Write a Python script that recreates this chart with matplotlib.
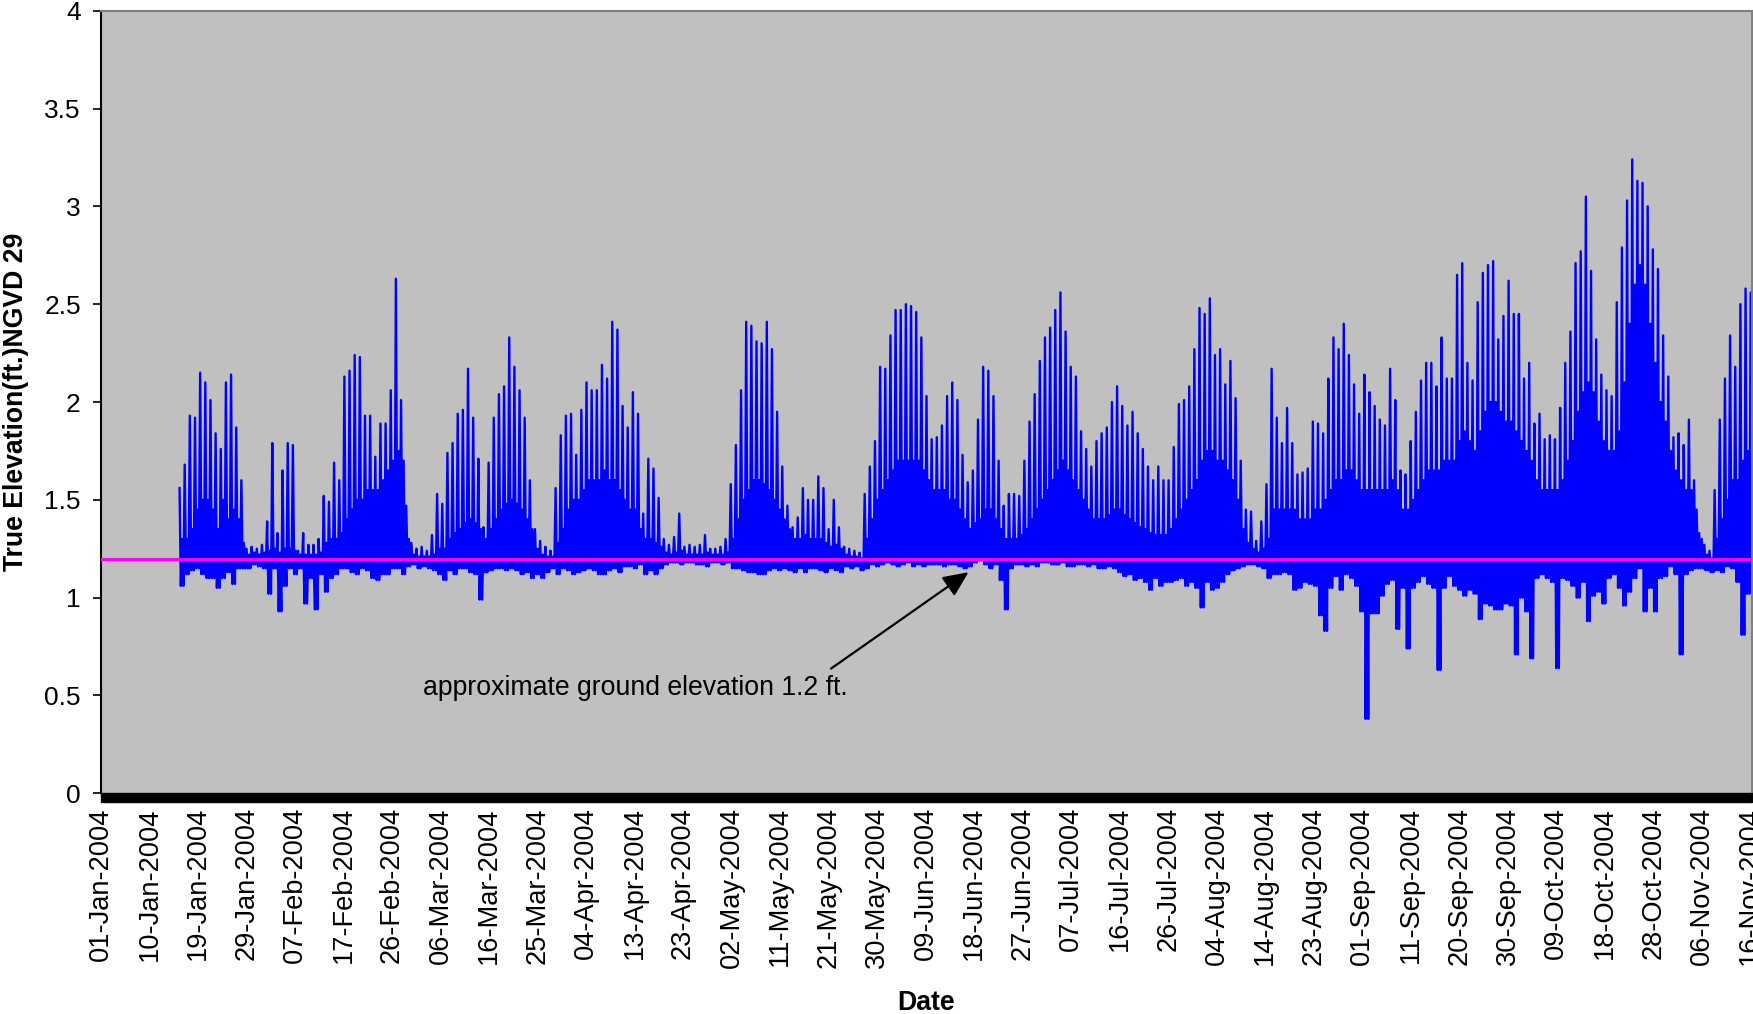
import numpy as np
import pandas as pd
import matplotlib
matplotlib.use('Agg')
import matplotlib.pyplot as plt
import matplotlib.dates as mdates
from matplotlib.patches import Rectangle

plt.rcParams['font.family'] = ['Liberation Sans', 'DejaVu Sans']

# ---------------- data ----------------
first_day = '2004-01-16'
# daily highest spike, upper edge of the dense band, daily lowest dip (ft NGVD 29)
daily_high = [
    1.56, 1.68, 1.93, 1.92, 2.15, 2.10, 2.01, 1.84, 1.76, 2.10,
    2.14, 1.87, 1.60, 1.25, 1.26, 1.25, 1.27, 1.39, 1.79, 1.33,
    1.65, 1.79, 1.78, 1.24, 1.33, 1.27, 1.27, 1.30, 1.52, 1.49,
    1.69, 1.60, 2.13, 2.16, 2.24, 2.23, 1.93, 1.93, 1.72, 1.89,
    1.89, 2.06, 2.63, 2.01, 1.47, 1.28, 1.25, 1.26, 1.24, 1.32,
    1.53, 1.48, 1.74, 1.79, 1.94, 1.96, 2.17, 1.92, 1.71, 1.36,
    1.69, 1.92, 2.04, 2.08, 2.33, 2.18, 2.06, 1.92, 1.60, 1.35,
    1.29, 1.26, 1.24, 1.56, 1.83, 1.93, 1.94, 1.73, 1.96, 2.10,
    2.06, 2.06, 2.19, 2.12, 2.41, 2.37, 1.98, 1.87, 2.05, 1.94,
    1.43, 1.71, 1.66, 1.51, 1.30, 1.27, 1.31, 1.43, 1.26, 1.27,
    1.26, 1.27, 1.32, 1.25, 1.25, 1.26, 1.30, 1.58, 1.78, 2.06,
    2.41, 2.39, 2.31, 2.30, 2.41, 2.27, 1.95, 1.67, 1.47, 1.36,
    1.41, 1.56, 1.50, 1.50, 1.62, 1.56, 1.35, 1.50, 1.36, 1.26,
    1.25, 1.24, 1.23, 1.53, 1.67, 1.80, 2.18, 2.17, 2.34, 2.47,
    2.47, 2.50, 2.49, 2.46, 2.33, 2.03, 1.81, 1.82, 1.88, 2.03,
    2.10, 2.01, 1.73, 1.59, 1.65, 1.91, 2.18, 2.16, 2.03, 1.70,
    1.47, 1.53, 1.53, 1.52, 1.70, 1.90, 2.04, 2.21, 2.33, 2.38,
    2.47, 2.56, 2.36, 2.18, 2.13, 1.85, 1.76, 1.67, 1.80, 1.84,
    1.87, 2.00, 2.08, 1.98, 1.88, 1.95, 1.84, 1.76, 1.67, 1.60,
    1.67, 1.60, 1.60, 1.77, 1.99, 2.01, 2.08, 2.27, 2.48, 2.45,
    2.53, 2.24, 2.27, 2.09, 2.21, 2.02, 1.70, 1.45, 1.44, 1.29,
    1.39, 1.58, 2.17, 1.92, 1.79, 1.97, 1.79, 1.63, 1.64, 1.66,
    1.90, 1.89, 1.84, 2.12, 2.33, 2.27, 2.40, 2.24, 2.09, 1.94,
    2.14, 2.05, 1.98, 1.91, 1.88, 2.17, 2.01, 1.65, 1.63, 1.80,
    1.95, 2.11, 2.20, 2.20, 2.08, 2.33, 2.12, 2.12, 2.65, 2.71,
    2.20, 2.11, 2.51, 2.66, 2.70, 2.72, 2.32, 2.44, 2.62, 2.45,
    2.45, 2.12, 2.20, 1.89, 1.94, 1.81, 1.83, 1.81, 1.97, 2.20,
    2.36, 2.71, 2.77, 3.05, 2.67, 2.32, 2.14, 2.06, 2.03, 2.51,
    2.79, 3.03, 3.24, 3.13, 3.12, 3.00, 2.78, 2.68, 2.34, 2.13,
    1.82, 1.84, 1.78, 1.91, 1.60, 1.33, 1.27, 1.24, 1.55, 1.91,
    2.12, 2.34, 2.18, 2.50, 2.58, 2.56,
]
daily_mid = [
    1.30, 1.30, 1.35, 1.45, 1.50, 1.50, 1.45, 1.35, 1.50, 1.40,
    1.45, 1.40, 1.28, 1.22, 1.23, 1.22, 1.23, 1.24, 1.25, 1.23,
    1.25, 1.25, 1.24, 1.22, 1.22, 1.22, 1.22, 1.23, 1.28, 1.30,
    1.30, 1.33, 1.40, 1.45, 1.50, 1.50, 1.55, 1.55, 1.55, 1.60,
    1.65, 1.70, 1.75, 1.70, 1.30, 1.22, 1.21, 1.21, 1.21, 1.22,
    1.25, 1.25, 1.30, 1.33, 1.35, 1.38, 1.40, 1.38, 1.35, 1.30,
    1.35, 1.40, 1.45, 1.48, 1.50, 1.48, 1.45, 1.40, 1.35, 1.25,
    1.22, 1.21, 1.21, 1.28, 1.35, 1.45, 1.50, 1.50, 1.55, 1.60,
    1.60, 1.60, 1.65, 1.60, 1.60, 1.55, 1.50, 1.45, 1.45, 1.35,
    1.30, 1.30, 1.28, 1.26, 1.23, 1.22, 1.23, 1.24, 1.22, 1.22,
    1.22, 1.22, 1.23, 1.22, 1.22, 1.22, 1.23, 1.30, 1.40, 1.50,
    1.55, 1.60, 1.60, 1.58, 1.55, 1.50, 1.45, 1.40, 1.35, 1.30,
    1.30, 1.32, 1.30, 1.30, 1.30, 1.28, 1.26, 1.27, 1.25, 1.22,
    1.21, 1.21, 1.20, 1.30, 1.40, 1.50, 1.55, 1.60, 1.65, 1.70,
    1.70, 1.70, 1.70, 1.70, 1.65, 1.60, 1.55, 1.55, 1.55, 1.50,
    1.50, 1.45, 1.40, 1.35, 1.38, 1.40, 1.45, 1.45, 1.40, 1.35,
    1.30, 1.30, 1.30, 1.32, 1.35, 1.40, 1.45, 1.50, 1.55, 1.60,
    1.65, 1.70, 1.65, 1.60, 1.55, 1.50, 1.45, 1.40, 1.40, 1.40,
    1.42, 1.45, 1.45, 1.42, 1.40, 1.38, 1.36, 1.35, 1.33, 1.32,
    1.32, 1.32, 1.35, 1.40, 1.45, 1.50, 1.55, 1.60, 1.70, 1.75,
    1.75, 1.70, 1.70, 1.65, 1.60, 1.50, 1.35, 1.28, 1.25, 1.23,
    1.25, 1.30, 1.45, 1.45, 1.45, 1.45, 1.45, 1.40, 1.40, 1.40,
    1.45, 1.45, 1.50, 1.55, 1.60, 1.60, 1.65, 1.65, 1.60, 1.55,
    1.55, 1.55, 1.55, 1.55, 1.55, 1.60, 1.55, 1.45, 1.45, 1.50,
    1.55, 1.60, 1.65, 1.65, 1.65, 1.70, 1.70, 1.70, 1.80, 1.85,
    1.80, 1.75, 1.85, 1.95, 2.00, 2.00, 1.95, 1.90, 1.90, 1.85,
    1.80, 1.75, 1.70, 1.60, 1.55, 1.55, 1.55, 1.55, 1.60, 1.70,
    1.80, 1.95, 2.05, 2.10, 2.05, 1.90, 1.80, 1.75, 1.75, 1.85,
    2.10, 2.40, 2.60, 2.70, 2.60, 2.40, 2.20, 2.00, 1.90, 1.75,
    1.65, 1.60, 1.55, 1.55, 1.45, 1.30, 1.22, 1.20, 1.30, 1.40,
    1.50, 1.60, 1.60, 1.70, 1.75, 1.75,
]
daily_low = [
    1.06, 1.12, 1.14, 1.15, 1.12, 1.10, 1.10, 1.05, 1.10, 1.13,
    1.07, 1.15, 1.15, 1.15, 1.17, 1.16, 1.15, 1.02, 1.15, 0.93,
    1.06, 1.15, 1.12, 1.15, 0.97, 1.10, 0.94, 1.12, 1.03, 1.10,
    1.12, 1.15, 1.15, 1.13, 1.12, 1.15, 1.14, 1.10, 1.09, 1.12,
    1.12, 1.15, 1.15, 1.12, 1.16, 1.17, 1.15, 1.16, 1.15, 1.14,
    1.12, 1.09, 1.14, 1.12, 1.15, 1.15, 1.13, 1.12, 0.99, 1.13,
    1.14, 1.15, 1.15, 1.14, 1.15, 1.14, 1.12, 1.13, 1.10, 1.12,
    1.10, 1.13, 1.15, 1.12, 1.15, 1.14, 1.12, 1.13, 1.14, 1.15,
    1.14, 1.12, 1.12, 1.14, 1.15, 1.13, 1.16, 1.16, 1.15, 1.17,
    1.12, 1.14, 1.12, 1.15, 1.17, 1.18, 1.18, 1.17, 1.18, 1.18,
    1.17, 1.17, 1.16, 1.18, 1.18, 1.17, 1.18, 1.15, 1.15, 1.14,
    1.13, 1.13, 1.12, 1.12, 1.14, 1.15, 1.14, 1.15, 1.14, 1.13,
    1.15, 1.13, 1.15, 1.15, 1.14, 1.13, 1.15, 1.14, 1.13, 1.16,
    1.15, 1.16, 1.14, 1.15, 1.17, 1.16, 1.17, 1.18, 1.17, 1.16,
    1.17, 1.18, 1.16, 1.17, 1.16, 1.17, 1.17, 1.17, 1.16, 1.17,
    1.17, 1.16, 1.15, 1.16, 1.18, 1.19, 1.17, 1.15, 1.17, 1.09,
    0.94, 1.15, 1.17, 1.17, 1.16, 1.17, 1.16, 1.18, 1.18, 1.17,
    1.17, 1.18, 1.16, 1.16, 1.17, 1.17, 1.16, 1.17, 1.15, 1.15,
    1.16, 1.15, 1.13, 1.11, 1.12, 1.09, 1.10, 1.08, 1.04, 1.10,
    1.06, 1.08, 1.08, 1.09, 1.10, 1.06, 1.08, 1.05, 0.95, 1.08,
    1.04, 1.05, 1.08, 1.12, 1.14, 1.15, 1.16, 1.17, 1.17, 1.16,
    1.15, 1.10, 1.12, 1.12, 1.13, 1.12, 1.04, 1.05, 1.08, 1.07,
    1.06, 0.91, 0.83, 1.05, 1.11, 1.04, 1.12, 1.10, 1.06, 0.93,
    0.38, 0.92, 0.92, 1.01, 1.07, 1.09, 0.84, 1.05, 0.74, 1.05,
    1.08, 1.11, 1.07, 1.05, 0.63, 1.05, 1.11, 1.06, 1.04, 1.01,
    1.04, 1.02, 0.89, 0.97, 0.96, 0.94, 0.94, 0.97, 0.96, 0.71,
    1.00, 0.93, 0.69, 1.10, 1.12, 1.10, 1.08, 0.64, 1.10, 1.09,
    1.06, 1.00, 1.08, 0.88, 1.01, 1.03, 0.97, 1.10, 1.12, 1.05,
    0.96, 1.03, 1.10, 1.15, 0.93, 1.05, 0.93, 1.10, 1.11, 1.16,
    1.12, 0.71, 1.12, 1.14, 1.15, 1.15, 1.14, 1.13, 1.14, 1.13,
    1.16, 1.15, 1.08, 0.81, 1.02, 1.05,
]

tick_labels = [
    '01-Jan-2004', '10-Jan-2004', '19-Jan-2004', '29-Jan-2004', '07-Feb-2004',
    '17-Feb-2004', '26-Feb-2004', '06-Mar-2004', '16-Mar-2004', '25-Mar-2004',
    '04-Apr-2004', '13-Apr-2004', '23-Apr-2004', '02-May-2004', '11-May-2004',
    '21-May-2004', '30-May-2004', '09-Jun-2004', '18-Jun-2004', '27-Jun-2004',
    '07-Jul-2004', '16-Jul-2004', '26-Jul-2004', '04-Aug-2004', '14-Aug-2004',
    '23-Aug-2004', '01-Sep-2004', '11-Sep-2004', '20-Sep-2004', '30-Sep-2004',
    '09-Oct-2004', '18-Oct-2004', '28-Oct-2004', '06-Nov-2004', '16-Nov-2004',
]
axis_start = '2004-01-01'
tick_step_hours = 226
y_ticks = [0, 0.5, 1, 1.5, 2, 2.5, 3, 3.5, 4]
y_tick_labels = ['0', '0.5', '1', '1.5', '2', '2.5', '3', '3.5', '4']
ground_elevation = 1.2
note_text = 'approximate ground elevation 1.2 ft.'

# ---------------- build series ----------------
n = min(len(daily_high), len(daily_mid), len(daily_low))
days = pd.date_range(first_day, periods=n, freq='D')
times, vals = [], []
for d, h, m, l in zip(days, daily_high[:n], daily_mid[:n], daily_low[:n]):
    for hr, v in zip((6, 12, 18, 24), (h, l, m, l)):
        times.append(d + pd.Timedelta(hours=hr))
        vals.append(v)
times = pd.DatetimeIndex(times)

t0 = pd.Timestamp(axis_start)
tick_pos = [mdates.date2num(t0 + pd.Timedelta(hours=k * tick_step_hours))
            for k in range(len(tick_labels))]

# ---------------- figure ----------------
W, H = 1753, 1014
fig = plt.figure(figsize=(W / 100, H / 100), dpi=100)
fig.patch.set_facecolor('white')
ax_l, ax_r, ax_t, ax_b = 101, 1752, 10.7, 793.3
ax = fig.add_axes([ax_l / W, 1 - ax_b / H, (ax_r - ax_l) / W, (ax_b - ax_t) / H])
ax.set_facecolor('#C0C0C0')

ax.plot(mdates.date2num(times), vals, color='#0000FF', lw=1.7, zorder=2)
ax.axhline(ground_elevation, color='#FF00FF', lw=2.2, zorder=3)

ax.set_xlim(mdates.date2num(t0), mdates.date2num(t0) + 320.5)
ax.set_ylim(0, 4)

ax.set_xticks(tick_pos)
ax.set_xticklabels(tick_labels, rotation=90, fontsize=19.6)
ax.tick_params(axis='x', length=0, pad=10)
ax.set_yticks(y_ticks)
ax.set_yticklabels(y_tick_labels, fontsize=19)
ax.tick_params(axis='y', direction='out', length=5.5, width=1.2, pad=9, color='black')

for s in ('top', 'right'):
    ax.spines[s].set_color('#808080')
    ax.spines[s].set_linewidth(1.5)
ax.spines['left'].set_color('black')
ax.spines['left'].set_linewidth(1.5)
ax.spines['bottom'].set_visible(False)
bar_h = 8.5 / (ax_b - ax_t)
ax.add_patch(Rectangle((0, -bar_h), 1, bar_h, transform=ax.transAxes,
                       clip_on=False, color='black', zorder=5))

# annotation
t_text = mdates.date2num(t0) + 103.7
t_tail = mdates.date2num(t0) + 141.7
t_tip = mdates.date2num(t0) + 168.4
ax.text(t_text, 0.54, note_text, ha='center', va='center', fontsize=19.2, color='black')
ax.annotate('', xy=(t_tip, 1.13), xytext=(t_tail, 0.637),
            arrowprops=dict(arrowstyle='-|>,head_length=0.55,head_width=0.25',
                            mutation_scale=28, color='black', lw=1.6,
                            shrinkA=0, shrinkB=0))

fig.text(15.6 / W, 1 - 402 / H, 'True Elevation(ft.)NGVD 29', rotation=90,
         ha='center', va='center', fontsize=19.2, fontweight='bold')
fig.text(926.5 / W, 1 - 1003 / H, 'Date', ha='center', va='center',
         fontsize=19.2, fontweight='bold')

fig.savefig('out.png', dpi=100, facecolor='white')
